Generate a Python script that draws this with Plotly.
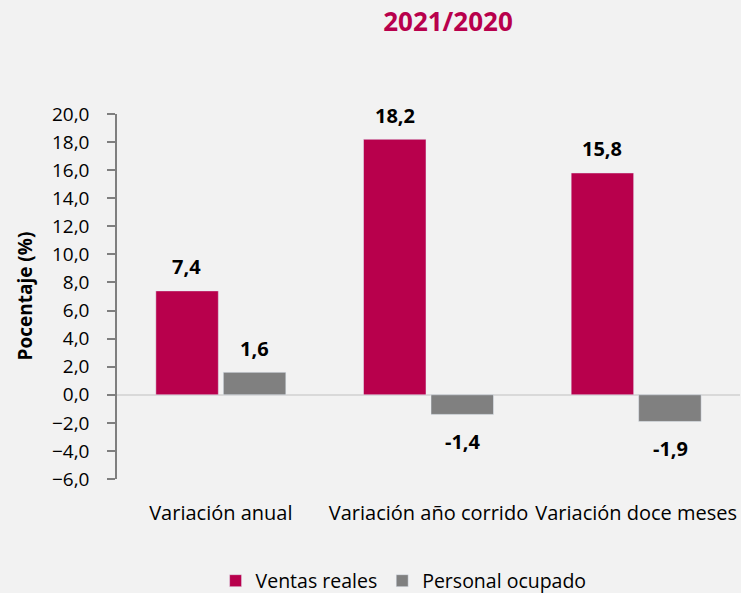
import plotly.graph_objects as go

categories = ["Variación anual", "Variación año corrido", "Variación doce meses"]
ventas_reales = [7.4, 18.2, 15.8]
personal_ocupado = [1.6, -1.4, -1.9]
tick_vals = [-6, -4, -2, 0, 2, 4, 6, 8, 10, 12, 14, 16, 18, 20]

RED = "#B8004C"
GREY = "#808080"
FONT = "Open Sans"

fig = go.Figure()
fig.add_trace(go.Bar(name="Ventas reales", x=categories, y=ventas_reales, marker_color=RED))
fig.add_trace(go.Bar(name="Personal ocupado", x=categories, y=personal_ocupado, marker_color=GREY))

def fmt(v):
    return f"{v:.1f}".replace(".", ",")

for series, shift in ((ventas_reales, -34), (personal_ocupado, 34)):
    for c, v in zip(categories, series):
        fig.add_annotation(x=c, y=v, xref="x", yref="y", text=f"<b>{fmt(v)}</b>",
                           showarrow=False, xshift=shift, yshift=24 if v >= 0 else -27,
                           font=dict(family=FONT, size=20, color="#000000"))

# y axis title
fig.add_annotation(x=0, y=0.5, xref="paper", yref="paper", xshift=-93,
                   xanchor="center", yanchor="middle",
                   text="<b>Pocentaje (%)</b>", textangle=-90, showarrow=False,
                   font=dict(family=FONT, size=19, color="#000000"))

fig.update_layout(
    width=741, height=593,
    paper_bgcolor="#F2F2F2", plot_bgcolor="#F2F2F2",
    margin=dict(l=117, r=1, t=114, b=114, autoexpand=False),
    barmode="group", bargap=0.35, bargroupgap=0.074,
    separators=", ",
    font=dict(family=FONT, size=19, color="#000000"),
    title=dict(text="<b>2021/2020</b>", x=448 / 741, xref="container", xanchor="center",
               y=1 - 22 / 593, yref="container", yanchor="middle",
               font=dict(family=FONT, size=26, color=RED)),
    legend=dict(orientation="h", x=0.46, xanchor="center",
                yref="container", y=1 - 581 / 593, yanchor="middle",
                font=dict(family=FONT, size=19.5), itemwidth=30, traceorder="normal"),
    showlegend=True,
)
fig.update_yaxes(range=[-6, 20], tickvals=tick_vals, tickformat=".1f",
                 showgrid=False, showline=True, linecolor="#7F7F7F", linewidth=1.5,
                 ticks="outside", ticklen=8, tickcolor="#7F7F7F", tickwidth=1.5,
                 zeroline=True, zerolinecolor="#D9D9D9", zerolinewidth=1.5,
                 tickfont=dict(size=19), ticklabelstandoff=14, automargin=False)
fig.update_xaxes(showgrid=False, showline=False, ticks="", tickfont=dict(size=20),
                 ticklabelstandoff=20, automargin=False)

fig.write_html("out.html", config={"displayModeBar": False},
               post_script="document.body.style.margin='0';")
